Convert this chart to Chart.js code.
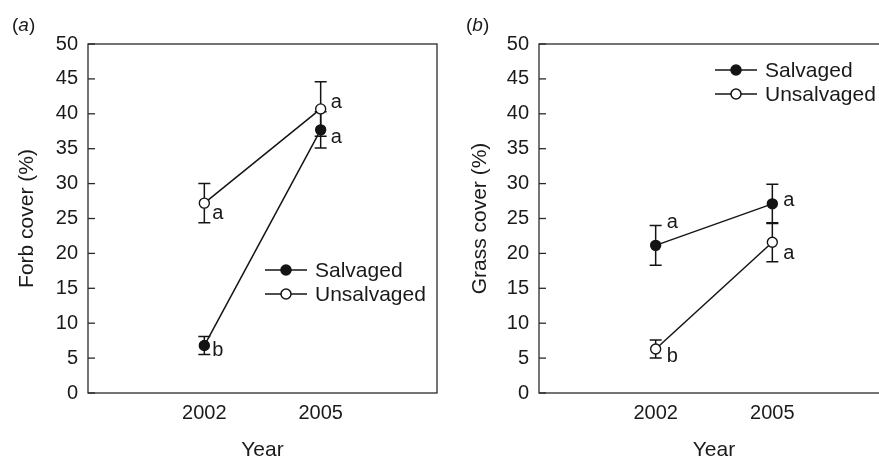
<!DOCTYPE html>
<html><head><meta charset="utf-8">
<script src="https://cdn.jsdelivr.net/npm/chart.js@4.4.1/dist/chart.umd.min.js"></script>
<style>
html,body{margin:0;padding:0;background:#fff;width:879px;height:459px;overflow:hidden;position:relative;}
#wa{position:absolute;left:0;top:0;width:440px;height:459px;overflow:hidden;}
#wb{position:absolute;left:440px;top:0;width:439px;height:459px;overflow:hidden;}
.holder{position:absolute;left:0;top:0;width:460px;height:459px;}
.plabel{position:absolute;font-family:"Liberation Sans",Arial,sans-serif;font-size:19px;color:#1a1a1a;line-height:19px;white-space:nowrap;}
</style></head><body>
<div id="wa"><div class="holder"><canvas id="ca"></canvas></div></div>
<div id="wb"><div class="holder"><canvas id="cb"></canvas></div></div>
<div class="plabel" style="left:12px;top:15px">(<i>a</i>)</div>
<div class="plabel" style="left:466px;top:15px">(<i>b</i>)</div>
<script>
// ---- data ----
const years = [2002, 2005];
const xRange = [1999, 2008];
const yTicks = [0, 5, 10, 15, 20, 25, 30, 35, 40, 45, 50];
const seriesNames = ['Salvaged', 'Unsalvaged'];

const forbSalvaged = [6.8, 37.7];
const forbSalvagedErr = [1.3, 2.6];
const forbSalvagedLetters = ['b', 'a'];
const forbUnsalvaged = [27.2, 40.7];
const forbUnsalvagedErr = [2.8, 3.9];
const forbUnsalvagedLetters = ['a', 'a'];

const grassSalvaged = [21.15, 27.1];
const grassSalvagedErr = [2.85, 2.8];
const grassSalvagedLetters = ['a', 'a'];
const grassUnsalvaged = [6.3, 21.6];
const grassUnsalvagedErr = [1.3, 2.8];
const grassUnsalvagedLetters = ['b', 'a'];

// ---- styling ----
const INK = '#141414';
const TXT = '#1a1a1a';
Chart.defaults.font.family = '"Liberation Sans", Arial, sans-serif';
Chart.defaults.color = TXT;

const frame = {
  id: 'frame',
  beforeDatasetsDraw(chart, args, opts) {
    const {ctx, chartArea: a} = chart;
    const ys = chart.scales.y;
    ctx.save();
    ctx.strokeStyle = opts.color; ctx.lineWidth = opts.lineWidth;
    ctx.strokeRect(a.left, a.top, a.right - a.left, a.bottom - a.top);
    ys.ticks.forEach(t => {
      const y = ys.getPixelForValue(t.value);
      ctx.beginPath(); ctx.moveTo(a.left, y); ctx.lineTo(a.left + opts.tick, y); ctx.stroke();
    });
    ctx.restore();
  }
};

const errorBars = {
  id: 'errorBars',
  beforeDatasetsDraw(chart, args, opts) {
    const ctx = chart.ctx, xs = chart.scales.x, ys = chart.scales.y;
    ctx.save();
    ctx.strokeStyle = opts.color; ctx.lineWidth = opts.lineWidth;
    chart.data.datasets.forEach(ds => {
      ds.data.forEach((p, i) => {
        const e = ds.errors[i];
        const x = xs.getPixelForValue(p.x);
        const y1 = ys.getPixelForValue(p.y + e), y2 = ys.getPixelForValue(p.y - e);
        ctx.beginPath();
        ctx.moveTo(x, y1); ctx.lineTo(x, y2);
        ctx.moveTo(x - opts.cap, y1); ctx.lineTo(x + opts.cap, y1);
        ctx.moveTo(x - opts.cap, y2); ctx.lineTo(x + opts.cap, y2);
        ctx.stroke();
      });
    });
    ctx.restore();
  }
};

const letters = {
  id: 'letters',
  afterDatasetsDraw(chart, args, opts) {
    const ctx = chart.ctx, xs = chart.scales.x, ys = chart.scales.y;
    ctx.save();
    ctx.fillStyle = TXT; ctx.font = opts.font; ctx.textAlign = 'left'; ctx.textBaseline = 'alphabetic';
    chart.data.datasets.forEach((ds, di) => {
      ds.data.forEach((p, i) => {
        const off = opts.offsets[di][i];
        ctx.fillText(ds.letters[i], xs.getPixelForValue(p.x) + off[0], ys.getPixelForValue(p.y) + off[1]);
      });
    });
    ctx.restore();
  }
};

const lineLegend = {
  id: 'lineLegend',
  afterDraw(chart, args, opts) {
    const {ctx, chartArea: a} = chart;
    ctx.save();
    ctx.font = opts.font; ctx.textAlign = 'left'; ctx.textBaseline = 'middle';
    chart.data.datasets.forEach((ds, i) => {
      const x0 = a.left + opts.x, y = a.top + opts.y + i * opts.gap;
      ctx.strokeStyle = INK; ctx.lineWidth = 1.5;
      ctx.beginPath(); ctx.moveTo(x0, y); ctx.lineTo(x0 + opts.len, y); ctx.stroke();
      ctx.beginPath(); ctx.arc(x0 + opts.len / 2, y, 5, 0, Math.PI * 2);
      ctx.fillStyle = ds.pointBackgroundColor; ctx.fill(); ctx.stroke();
      ctx.fillStyle = TXT;
      ctx.fillText(ds.label, x0 + opts.len + opts.textGap, y + 1);
    });
    ctx.restore();
  }
};

function makeDataset(label, values, errs, lets, filled) {
  return {
    label,
    data: years.map((yr, i) => ({x: yr, y: values[i]})),
    errors: errs,
    letters: lets,
    borderColor: INK,
    borderWidth: 1.5,
    pointRadius: 5,
    pointBorderWidth: 1.4,
    pointBorderColor: INK,
    pointBackgroundColor: filled ? INK : '#ffffff',
    tension: 0,
    fill: false
  };
}

function makeChart(id, yTitle, sets, cfg) {
  return new Chart(document.getElementById(id), {
    type: 'line',
    data: {datasets: sets},
    options: {
      responsive: true, maintainAspectRatio: false, animation: false,
      layout: {padding: {left: 0, top: 44, right: cfg.padRight, bottom: 0}},
      plugins: {
        legend: {display: false}, tooltip: {enabled: false},
        frame: {color: '#2a2a2a', lineWidth: 1.3, tick: 7},
        errorBars: {color: INK, lineWidth: 1.5, cap: 6},
        letters: {font: '20px "Liberation Sans", Arial, sans-serif', offsets: cfg.letterOffsets},
        lineLegend: {font: '21px "Liberation Sans", Arial, sans-serif', x: cfg.legX, y: cfg.legY, gap: 24, len: 42, textGap: 8}
      },
      scales: {
        x: {
          type: 'linear', min: xRange[0], max: xRange[1],
          afterBuildTicks: s => { s.ticks = years.map(v => ({value: v})); },
          afterFit: s => { s.height = 66; },
          grid: {display: false, drawTicks: false},
          border: {display: false},
          ticks: {font: {size: 20}, padding: 8, color: TXT, callback: v => String(v), maxRotation: 0, autoSkip: false},
          title: {display: true, text: 'Year', font: {size: 21, lineHeight: 0.86}, padding: {top: 0, bottom: 0}, color: TXT}
        },
        y: {
          min: 0, max: 50,
          afterBuildTicks: s => { s.ticks = yTicks.map(v => ({value: v})); },
          afterFit: s => { s.width = cfg.yWidth; },
          grid: {display: false, drawTicks: false},
          border: {display: false},
          ticks: {font: {size: 20}, padding: 10, color: TXT},
          title: {display: true, text: yTitle, font: {size: 21, lineHeight: 1}, padding: {top: cfg.yTitlePad, bottom: 0}, color: TXT}
        }
      }
    },
    plugins: [frame, errorBars, letters, lineLegend]
  });
}

makeChart('ca', 'Forb cover (%)', [
  makeDataset(seriesNames[0], forbSalvaged, forbSalvagedErr, forbSalvagedLetters, true),
  makeDataset(seriesNames[1], forbUnsalvaged, forbUnsalvagedErr, forbUnsalvagedLetters, false)
], {
  padRight: 23, yWidth: 88, yTitlePad: 16.5, legX: 177, legY: 226,
  letterOffsets: [[[8, 10], [10, 13]], [[8, 16], [10, -1]]]
});

makeChart('cb', 'Grass cover (%)', [
  makeDataset(seriesNames[0], grassSalvaged, grassSalvagedErr, grassSalvagedLetters, true),
  makeDataset(seriesNames[1], grassUnsalvaged, grassUnsalvagedErr, grassUnsalvagedLetters, false)
], {
  padRight: 11, yWidth: 99, yTitlePad: 29.5, legX: 176, legY: 26,
  letterOffsets: [[[11, -17], [11, 2]], [[11, 13], [11, 17]]]
});
</script>
</body></html>
